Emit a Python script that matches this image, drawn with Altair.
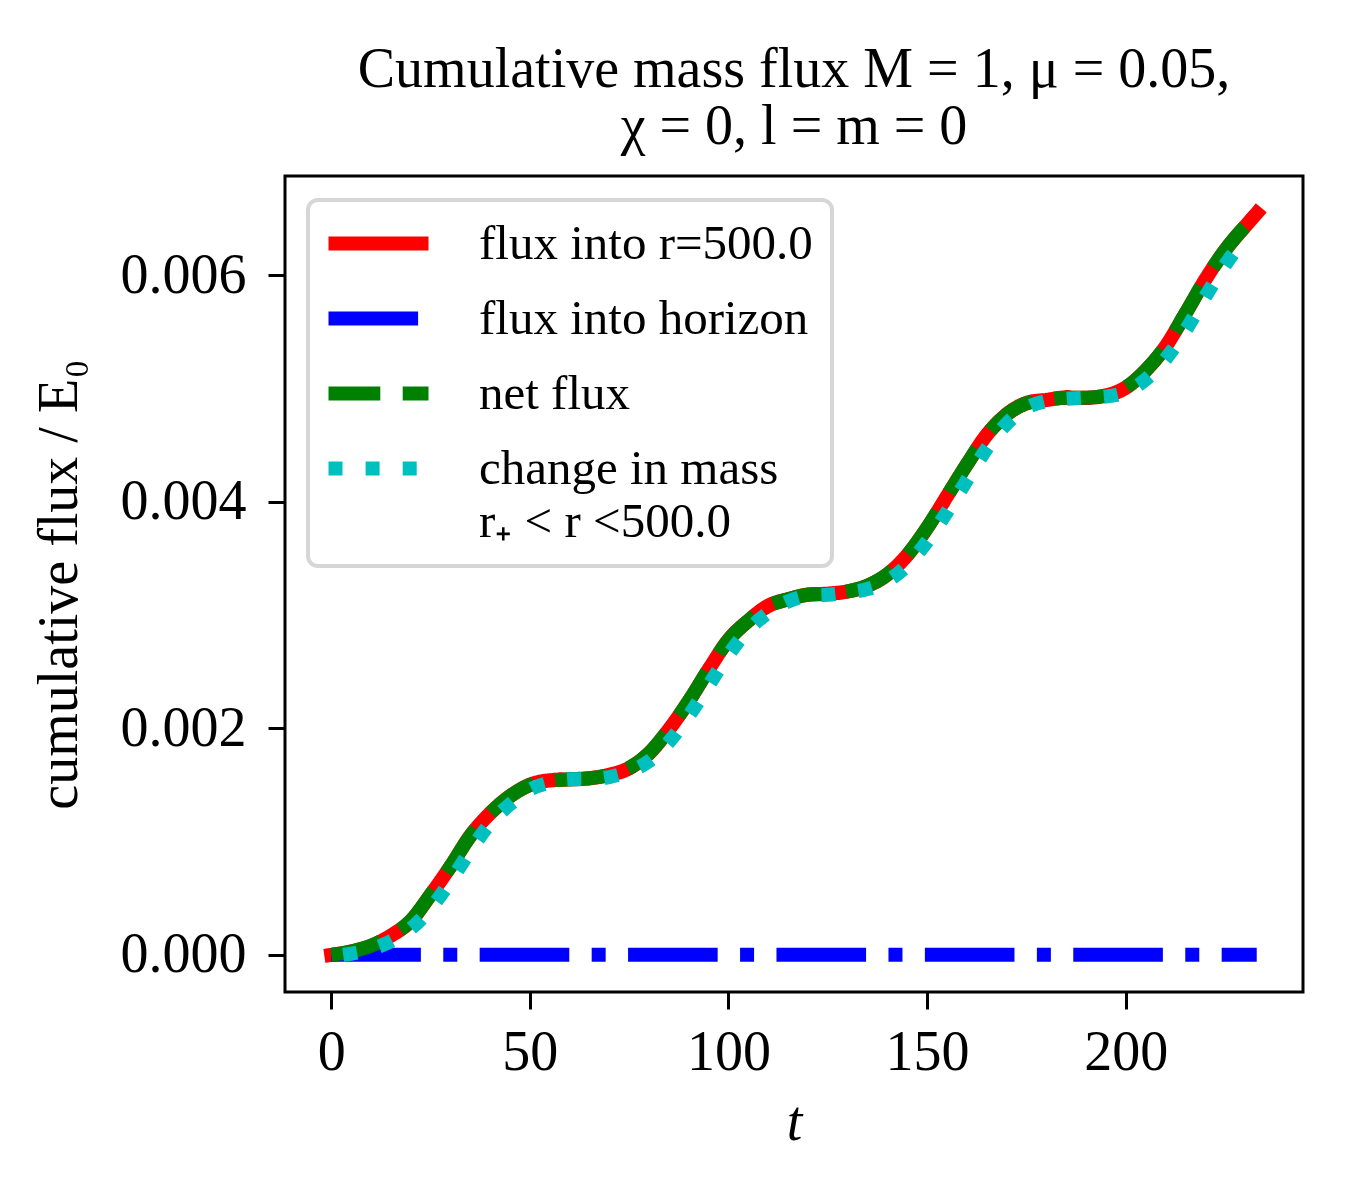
import altair as alt
import pandas as pd

# ---- data ----
t_main = [0, 5, 10, 15, 20, 25, 30, 35, 40, 45, 50, 55, 60, 65, 70, 75, 80, 85, 90, 95,
          100, 105, 110, 115, 120, 125, 130, 135, 140, 145, 150, 155, 160, 165, 170, 175,
          180, 185, 190, 195, 200, 205, 210, 215, 220, 225, 230, 233]
flux_outer = [0.0, 0.00003, 0.00008, 0.00017, 0.00030, 0.00053, 0.00078, 0.00105, 0.00125,
              0.00140, 0.00150, 0.00154, 0.00155, 0.00156, 0.00159, 0.00165, 0.00178, 0.00199,
              0.00224, 0.00252, 0.00278, 0.00295, 0.00308, 0.00314, 0.00318, 0.00319, 0.00321,
              0.00326, 0.00336, 0.00353, 0.00377, 0.00405, 0.00433, 0.00459, 0.00477, 0.00487,
              0.00490, 0.00492, 0.00492, 0.00494, 0.00501, 0.00516, 0.00537, 0.00566, 0.00596,
              0.00622, 0.00643, 0.00655]
flux_net = [0.0, 0.00003, 0.00008, 0.00017, 0.00030, 0.00053, 0.00078, 0.00105, 0.00125,
            0.00140, 0.00150, 0.00154, 0.00155, 0.00156, 0.00159, 0.00165, 0.00178, 0.00199,
            0.00224, 0.00252, 0.00278, 0.00295, 0.00308, 0.00314, 0.00318, 0.00319, 0.00321,
            0.00326, 0.00336, 0.00353, 0.00377, 0.00405, 0.00433, 0.00459, 0.00477, 0.00487,
            0.00490, 0.00492, 0.00492, 0.00494, 0.00501, 0.00516, 0.00537, 0.00566, 0.00596,
            0.00622, 0.00643, 0.00653]
t_horizon = [0, 233]
flux_horizon = [0.0, 0.0]
t_mass = [3, 5, 10, 15, 20, 25, 30, 35, 40, 45, 50, 55, 60, 65, 70, 75, 80, 85, 90, 95,
          100, 105, 110, 115, 120, 125, 130, 135, 140, 145, 150, 155, 160, 165, 170, 175,
          180, 185, 190, 195, 200, 205, 210, 215, 220, 225, 230]
mass_change = [0.0, 0.00001, 0.00005, 0.00012, 0.00023, 0.00041, 0.00065, 0.00092, 0.00116,
               0.00133, 0.00146, 0.00152, 0.00155, 0.00155, 0.00157, 0.00162, 0.00171, 0.00188,
               0.00211, 0.00238, 0.00265, 0.00287, 0.00302, 0.00312, 0.00317, 0.00318, 0.00320,
               0.00323, 0.00330, 0.00344, 0.00365, 0.00391, 0.00419, 0.00447, 0.00469, 0.00483,
               0.00489, 0.00491, 0.00492, 0.00493, 0.00497, 0.00508, 0.00526, 0.00551, 0.00581,
               0.00609, 0.00633]

series_names = ["flux into r=500.0", "flux into horizon", "net flux",
                "change in mass\nr₊ < r <500.0"]
series_colors = ["#ff0000", "#0000ff", "#008000", "#00bfbf"]
series_dashes = [[1, 0], [89.6, 22.4, 14, 22.4], [51.8, 22.4], [14, 23.1]]
x_ticks = [0, 50, 100, 150, 200]
y_ticks = [0.0, 0.002, 0.004, 0.006]

frames = []
for name, tt, vv in [(series_names[0], t_main, flux_outer),
                     (series_names[1], t_horizon, flux_horizon),
                     (series_names[2], t_main, flux_net),
                     (series_names[3], t_mass, mass_change)]:
    frames.append(pd.DataFrame({"t": tt, "v": vv, "series": name}))
df = pd.concat(frames, ignore_index=True)

FONT = "Liberation Serif"

x_enc = alt.X("t:Q", scale=alt.Scale(domain=[-11.65, 244.65], nice=False, zero=False),
              axis=alt.Axis(values=x_ticks, title="t", titleFontStyle="italic",
                            format="d", labelPadding=16, titlePadding=15))
y_enc = alt.Y("v:Q", scale=alt.Scale(domain=[-0.000328, 0.006878], nice=False, zero=False),
              axis=alt.Axis(values=y_ticks, format=".3f", title="cumulative flux / E₀",
                            labelPadding=22, titlePadding=32))
color_enc = alt.Color("series:N",
                      scale=alt.Scale(domain=series_names, range=series_colors),
                      legend=alt.Legend(
                          title=None, orient="none", legendX=23, legendY=24,
                          symbolType="M-4,0L4,0", symbolStrokeWidth=14, symbolSize=625,
                          labelFont=FONT, labelFontSize=49, labelOffset=76,
                          labelExpr="split(datum.label, '\\n')",
                          labelLimit=0, rowPadding=18, padding=19, symbolOffset=27,
                          strokeColor="#d6d6d6", fillColor="#ffffff",
                          cornerRadius=10, labelColor="#000000"))
dash_enc = alt.StrokeDash("series:N",
                          scale=alt.Scale(domain=series_names, range=series_dashes),
                          legend=None)

layers = []
for i, name in enumerate(series_names):
    mk = alt.Chart(df).transform_filter(alt.datum.series == name).mark_line(
        strokeWidth=14, interpolate="monotone",
        strokeCap="square" if i == 0 else "butt")
    layers.append(mk.encode(x=x_enc, y=y_enc, color=color_enc, strokeDash=dash_enc))

chart = alt.layer(*layers).properties(
    width=1018, height=816,
    autosize=alt.AutoSizeParams(type="none"),
    padding={"left": 277, "top": 168, "right": 30, "bottom": 192},
    title=alt.Title(["Cumulative mass flux M = 1, μ = 0.05,", "χ = 0, l = m = 0"],
                    font=FONT, fontSize=56, fontWeight="normal", lineHeight=57,
                    anchor="middle", offset=20, color="#000000"),
).configure(style={"guide-label": {"lineHeight": 53}}
).configure_view(stroke="#000000", strokeWidth=3).configure_axis(
    labelFont=FONT, labelFontSize=56, labelColor="#000000",
    titleFont=FONT, titleFontSize=56, titleFontWeight="normal", titleColor="#000000",
    domain=False, grid=False, ticks=True, tickSize=17, tickWidth=3,
    tickColor="#000000",
).configure_legend(strokeWidth=4)

chart.save("out.html", embed_options={"renderer": "svg", "actions": False})
